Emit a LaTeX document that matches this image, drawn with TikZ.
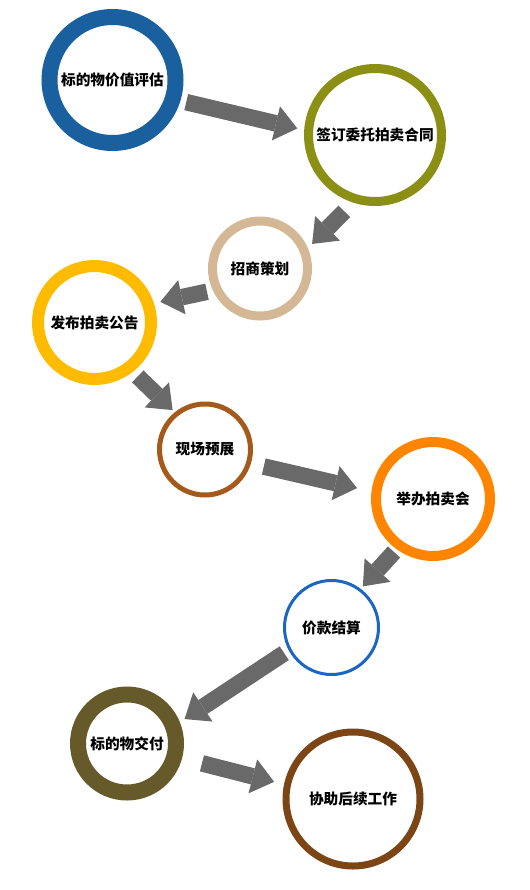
\documentclass[tikz,border=0pt]{standalone}
\usepackage{fontspec}
\newfontfamily\cjk{Noto Sans CJK SC}
\usetikzlibrary{arrows.meta}
\definecolor{ringblue}{HTML}{1A5F9E}
\definecolor{ringolive}{HTML}{8B9014}
\definecolor{ringtan}{HTML}{D4B896}
\definecolor{ringyellow}{HTML}{FFBB00}
\definecolor{ringbrown}{HTML}{A35A1B}
\definecolor{ringorange}{HTML}{FF8500}
\definecolor{ringsky}{HTML}{1A66C0}
\definecolor{ringmoss}{HTML}{665A2B}
\definecolor{ringumber}{HTML}{7B4516}
\definecolor{arrowgray}{HTML}{696969}

\begin{document}
\begin{tikzpicture}[x=0.75pt, y=-0.75pt,
	stage/.style={circle, draw, inner sep=0pt, font=\cjk\bfseries\fontsize{11}{13}\selectfont},
	flow/.style={draw=arrowgray, line width=12.4pt, -{Triangle[width=26.25pt, length=16.5pt, line width=0pt]}}]
			\useasboundingbox (0, 0) rectangle (529, 890);
			%%%%% STAGES %%%%%
			\node[stage, draw=ringblue, line width=12pt, minimum size=94.5pt] (c1) at (112.5, 80) {标的物价值评估};
			\node[stage, draw=ringolive, line width=6.75pt, minimum size=99.75pt] (c2) at (375, 135) {签订委托拍卖合同};
			\node[stage, draw=ringtan, line width=6.75pt, minimum size=71.25pt] (c3) at (260, 268.5) {招商策划};
			\node[stage, draw=ringyellow, line width=9pt, minimum size=84.75pt] (c4) at (94.5, 322.5) {发布拍卖公告};
			\node[stage, draw=ringbrown, line width=3.75pt, minimum size=68.25pt] (c5) at (205, 449.5) {现场预展};
			\node[stage, draw=ringorange, line width=7.5pt, minimum size=85.5pt] (c6) at (433, 499) {举办拍卖会};
			\node[stage, draw=ringsky, line width=2.25pt, minimum size=70.5pt] (c7) at (331.5, 627.5) {价款结算};
			\node[stage, draw=ringmoss, line width=12pt, minimum size=73.5pt] (c8) at (127, 743.5) {标的物交付};
			\node[stage, draw=ringumber, line width=5.25pt, minimum size=100.5pt] (c9) at (353, 799) {协助后续工作};
			
			%%%%% ARROWS %%%%%
			\draw[flow, shorten <=4.5pt, shorten >=5.25pt] (c1.-17.4) -- (c2.176.3);
			\draw[flow, shorten <=9.3pt, shorten >=4.5pt] (c2.-108.7) -- (c3.23.2);
			\draw[flow, shorten <=4.5pt, shorten >=4.9pt] (c3.205.3) -- (c4.18.4);
			\draw[flow, shorten <=5pt, shorten >=2.25pt] (c4.-52.4) -- (c5.129.3);
			\draw[flow, shorten <=9.9pt, shorten >=11.1pt] (c5.-17.6) -- (c6.173.8);
			\draw[flow, shorten <=2.85pt, shorten >=2.4pt] (c6.-126.4) -- (c7.53.4);
			\draw[flow, shorten <=4pt, shorten >=4.2pt] (c7.208.2) -- (c8.22.1);
			\draw[flow, shorten <=15.4pt, shorten >=7.65pt] (c8.-15.3) -- (c9.168.3);
\end{tikzpicture}
\end{document}
